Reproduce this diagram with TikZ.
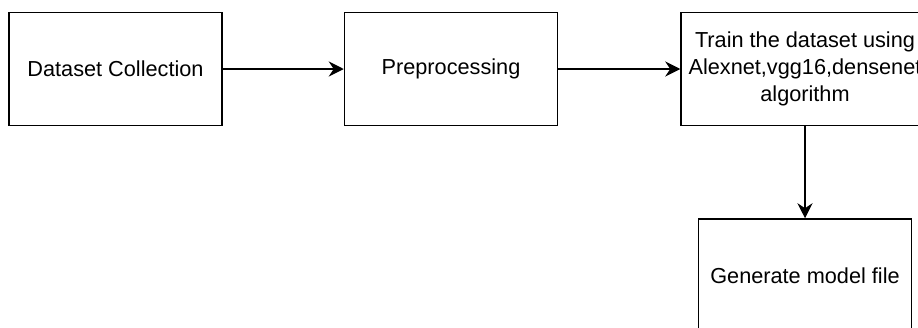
\documentclass[tikz,border=0pt]{standalone}
\usepackage{fontspec}
\setmainfont{Liberation Sans}
\usetikzlibrary{arrows.meta}
\begin{document}
\begin{tikzpicture}[x=1pt,y=-1pt,
  procbox/.style={draw=black, line width=1.5pt, minimum width=213pt, minimum height=113pt, inner sep=0pt, align=center,
    font=\fontsize{21.7pt}{27pt}\selectfont},
  flow/.style={draw=black, line width=1.5pt, -{Stealth[length=15pt,width=15pt,inset=5pt]}}]
\useasboundingbox (0,0) rectangle (918,327);
\clip (0,0) rectangle (918,327);
\node[procbox] (dc) at (115.5,69) {Dataset Collection};
\node[procbox] (pp) at (451,69) {Preprocessing};
\node[procbox, minimum width=248pt] (tr) at (805,69) {Train the dataset using\\Alexnet,vgg16,densenet\\algorithm};
\node[procbox] (gm) at (805,275.5) {Generate model file};
\draw[flow] (dc) -- (pp);
\draw[flow] (pp) -- (tr);
\draw[flow] (tr) -- (gm);
\end{tikzpicture}
\end{document}
